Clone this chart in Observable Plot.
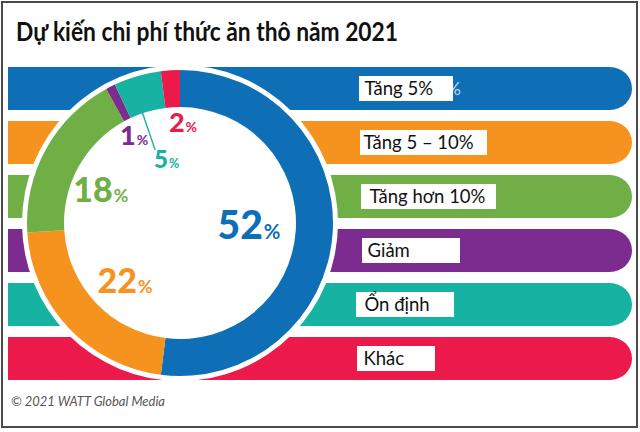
<!DOCTYPE html>
<html><head><meta charset="utf-8">
<script src="https://cdn.jsdelivr.net/npm/d3@7"></script>
<script src="https://cdn.jsdelivr.net/npm/@observablehq/plot@0.6"></script>
<style>
body{margin:0;background:#fff;}
#wrap{position:relative;width:640px;height:432px;overflow:hidden;background:#fff;}
#chart{position:absolute;left:0;top:0;}
#title{position:absolute;left:16px;top:16px;font-family:Lato,sans-serif;font-weight:700;font-size:26px;line-height:1.2;color:#111;white-space:nowrap;transform-origin:0 0;}
#caption{position:absolute;left:11px;top:393px;font-family:Lato,sans-serif;font-style:italic;font-size:14px;line-height:1.2;color:#555;white-space:nowrap;transform-origin:0 0;}
#frame{position:absolute;left:1px;top:1px;width:637px;height:427px;border:2px solid #4a4a4a;box-sizing:border-box;pointer-events:none;}
</style></head>
<body>
<div id="wrap"><div id="chart"></div><div id="title"></div><div id="caption"></div><div id="frame"></div></div>
<script>
// ---- data ----
const categories = ["Tăng 5%", "Tăng 5 – 10%", "Tăng hơn 10%", "Giảm", "Ổn định", "Khác"];
const shares = [52, 22, 18, 1, 5, 2];
const colors = ["#0e6fb7", "#f6931f", "#70af45", "#7c2b8e", "#16b3a3", "#eb1a4b"];
const titleText = "Dự kiến chi phí thức ăn thô năm 2021";
const sourceText = "© 2021 WATT Global Media";

// ---- layout (pixels) ----
const layout = {barLeft: 8, barRight: 632, barTop: 65, barBottom: 383, barRound: 22,
  cx: 180, cy: 223, rIn: 116, rOut: 153, rGap: 158, leaderEnd: 77, leaderNudge: -2.6};
const boxX1 = [359, 360, 361, 362, 356, 357];
const boxX2 = [453, 487, 496, 460, 454, 435];
const textX = [364, 363, 369, 367, 364, 363];
const labelR = [69, 80, 86, 99, 65, 101];
const labelNudge = [-1.9, -3.3, -6.1, -0.6, 4.3, 5.3];
const labelSize = [39, 34, 34, 27, 24, 27];

const rows = categories.map((cat, i) => ({cat, share: shares[i], boxX1: boxX1[i], boxX2: boxX2[i], textX: textX[i]}));

function donut(index, scales) {
  const cx = scales.x(layout.cx), cy = layout.cy;
  const color = scales.color;
  const g = d3.create("svg:g").attr("transform", `translate(${cx},${cy})`);
  g.append("circle").attr("r", layout.rGap).attr("fill", "#fff");
  const arcs = d3.pie().sort(null).value(d => d.share)(rows);
  const arc = d3.arc().innerRadius(layout.rIn).outerRadius(layout.rOut);
  g.selectAll("path").data(arcs).join("path").attr("d", arc).attr("fill", d => color(d.data.cat));
  // leader line for the small teal slice
  const t = arcs[4];
  const a = (t.startAngle + t.endAngle) / 2 + layout.leaderNudge * Math.PI / 180;
  g.append("line")
    .attr("x1", Math.sin(a) * (layout.rIn + 2)).attr("y1", -Math.cos(a) * (layout.rIn + 2))
    .attr("x2", Math.sin(a) * layout.leaderEnd).attr("y2", -Math.cos(a) * layout.leaderEnd)
    .attr("stroke", color(t.data.cat)).attr("stroke-width", 1.4);
  arcs.forEach((d, i) => {
    const ang = (d.startAngle + d.endAngle) / 2 + labelNudge[i] * Math.PI / 180;
    const fs = labelSize[i];
    const x = Math.sin(ang) * labelR[i], y = -Math.cos(ang) * labelR[i] + 0.36 * fs;
    const txt = g.append("text").attr("x", x).attr("y", y).attr("text-anchor", "middle")
      .attr("fill", color(d.data.cat)).attr("font-family", "Lato, sans-serif")
      .attr("font-weight", 900).attr("font-size", fs);
    txt.append("tspan").text(d.data.share);
    txt.append("tspan").attr("font-size", fs * 0.52).attr("font-weight", 700).attr("dx", 1).text("%");
  });
  return g.node();
}

const chart = Plot.plot({
  width: 640, height: 432,
  marginTop: 0, marginBottom: 0, marginLeft: layout.barLeft, marginRight: 640 - layout.barRight,
  x: {domain: [layout.barLeft, layout.barRight], range: [layout.barLeft, layout.barRight], axis: null},
  y: {domain: categories, range: [layout.barTop, layout.barBottom], paddingInner: 0.2, paddingOuter: 0, axis: null},
  color: {domain: categories, range: colors},
  style: {fontFamily: "Lato, sans-serif", background: "transparent", overflow: "visible"},
  marks: [
    Plot.barX(rows, {y: "cat", x1: layout.barLeft - 40, x2: layout.barRight, fill: "cat", rx: layout.barRound, clip: true}),
    donut,
    Plot.text([rows[0]], {x: d => d.boxX2 - 7, y: "cat", text: () => "%", fill: "#bcd8ef", fontSize: 18, textAnchor: "start"}),
    Plot.barX(rows, {y: "cat", x1: "boxX1", x2: "boxX2", fill: "#fff", insetTop: 9, insetBottom: 9}),
    Plot.text(rows, {x: "textX", y: "cat", text: "cat", textAnchor: "start", fontSize: 18.5, fill: "#111"})
  ]
});
document.getElementById("chart").appendChild(chart);

const title = document.getElementById("title");
title.textContent = titleText;
const cap = document.getElementById("caption");
cap.textContent = sourceText;
function fit(el, target) {
  const w = el.getBoundingClientRect().width;
  el.style.transform = `scaleX(${target / w})`;
}
fit(title, 382);
fit(cap, 154);
</script>
</body></html>
